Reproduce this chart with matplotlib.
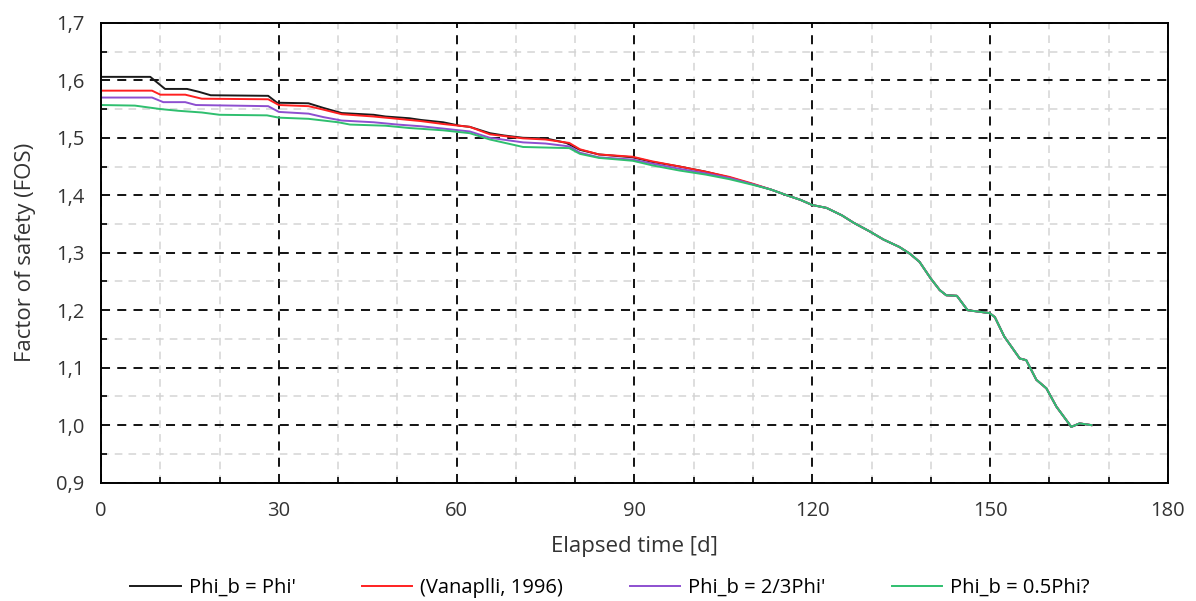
import matplotlib
matplotlib.use('Agg')
import matplotlib.pyplot as plt
from matplotlib.ticker import MultipleLocator, FuncFormatter

plt.rcParams['font.family'] = ['Open Sans', 'DejaVu Sans']

# FOS over time
black_days = [0, 8.3, 10.8, 14.5, 16.5, 18.5, 28.2, 29.7, 35.0, 37.5, 40.6, 46.0, 48.0, 52.0, 54.0,
              57.7, 60.5, 62.2, 65.6, 68.0, 71.2, 75.0, 78.5, 80.8, 84.0, 89.7, 93.0, 97.6, 102.0, 106.0, 110.0]
black_fos = [1.606, 1.606, 1.585, 1.585, 1.580, 1.574, 1.573, 1.561, 1.560, 1.552, 1.543, 1.540, 1.537, 1.534, 1.531,
             1.527, 1.521, 1.519, 1.508, 1.504, 1.500, 1.499, 1.491, 1.479, 1.471, 1.466, 1.458, 1.450, 1.441, 1.431, 1.419]

red_days = [0, 8.6, 10.0, 14.2, 17.0, 28.2, 30.0, 35.0, 37.5, 40.6, 46.0, 50.0, 54.0, 57.7, 62.2, 65.6,
            71.2, 75.0, 79.0, 80.8, 84.0, 89.7, 93.0, 97.6, 102.0, 106.0, 110.0]
red_fos = [1.582, 1.582, 1.575, 1.575, 1.568, 1.567, 1.557, 1.555, 1.549, 1.541, 1.537, 1.533, 1.529, 1.524, 1.519, 1.506,
           1.499, 1.497, 1.491, 1.480, 1.471, 1.467, 1.459, 1.450, 1.441, 1.432, 1.420]

purple_days = [0, 8.6, 10.5, 14.2, 16.0, 28.2, 30.0, 35.0, 37.5, 40.6, 46.0, 50.0, 54.0, 57.7, 62.2, 65.6,
               71.2, 75.0, 79.0, 80.8, 84.0, 89.7, 93.0, 97.6, 102.0, 106.0, 110.0]
purple_fos = [1.570, 1.570, 1.562, 1.562, 1.557, 1.555, 1.545, 1.542, 1.536, 1.530, 1.527, 1.523, 1.520, 1.516, 1.511, 1.500,
              1.492, 1.490, 1.485, 1.474, 1.466, 1.462, 1.455, 1.446, 1.438, 1.430, 1.419]

green_days = [0, 5.7, 10.0, 13.0, 17.0, 20.0, 28.0, 30.0, 35.0, 40.0, 42.0, 48.0, 52.0, 57.7, 62.2, 65.6,
              71.2, 79.0, 80.8, 84.0, 89.7, 93.0, 97.6, 102.0, 106.0, 110.0]
green_fos = [1.557, 1.556, 1.550, 1.547, 1.544, 1.540, 1.539, 1.535, 1.533, 1.527, 1.523, 1.521, 1.517, 1.513, 1.508, 1.497,
             1.484, 1.482, 1.472, 1.465, 1.460, 1.452, 1.443, 1.436, 1.428, 1.418]

# after ~110 d all four curves lie on top of each other
tail_days = [113, 115.7, 118, 120, 122.4, 125, 127, 129.7, 132, 134.7, 136.5, 138.1, 140, 141.5, 142.6, 144.4,
             146.2, 149.9, 150.8, 152.4, 155, 156.1, 157.8, 159.5, 161.2, 163.7, 165.1, 167.1]
tail_fos = [1.410, 1.400, 1.392, 1.383, 1.378, 1.365, 1.352, 1.337, 1.323, 1.310, 1.298, 1.284, 1.255, 1.235, 1.226, 1.225,
            1.200, 1.195, 1.188, 1.154, 1.116, 1.113, 1.079, 1.064, 1.032, 0.997, 1.003, 1.000]

series = [
    ("Phi_b = Phi'", black_days, black_fos, '#1a1a1a'),
    ('(Vanaplli, 1996)', red_days, red_fos, '#ff2020'),
    ("Phi_b = 2/3Phi'", purple_days, purple_fos, '#8d4fd0'),
    ('Phi_b = 0.5Phi?', green_days, green_fos, '#2fbf6f'),
]

fig = plt.figure(figsize=(11.96, 6.01), dpi=100)
ax = fig.add_axes([0.0845, 0.197, 0.892, 0.765])

for label, d, f, c in series:
    ax.plot(d + tail_days, f + tail_fos, color=c, linewidth=1.4, label=label)

ax.set_xlim(0, 180)
ax.set_ylim(0.9, 1.7)
ax.xaxis.set_major_locator(MultipleLocator(30))
ax.xaxis.set_minor_locator(MultipleLocator(10))
ax.yaxis.set_major_locator(MultipleLocator(0.1))
ax.yaxis.set_minor_locator(MultipleLocator(0.05))
ax.yaxis.set_major_formatter(FuncFormatter(lambda v, p: f'{v:.1f}'.replace('.', ',')))

ax.grid(which='major', color='black', linestyle=(0, (5, 4)), linewidth=1.3)
ax.grid(which='minor', color='#d4d4d4', linestyle=(0, (5, 4)), linewidth=1.1)
ax.set_axisbelow(True)

ax.tick_params(which='major', length=0, labelsize=14.5, colors='#333333', pad=12)
ax.tick_params(which='minor', direction='in', length=4, width=1.2, color='black')
ax.tick_params(axis='x', which='major', pad=13)
for s in ax.spines.values():
    s.set_linewidth(1.4)
    s.set_color('black')

ax.set_xlabel('Elapsed time [d]', fontsize=16, color='#333333', labelpad=11)
ax.set_ylabel('Factor of safety (FOS)', fontsize=16, color='#333333', labelpad=14)

fig.legend(loc='center', bbox_to_anchor=(0.51, 0.022), ncol=4, frameon=False,
           fontsize=14.5, handlelength=2.5, handletextpad=0.4, columnspacing=3.3)

plt.savefig('out.png', dpi=100)
